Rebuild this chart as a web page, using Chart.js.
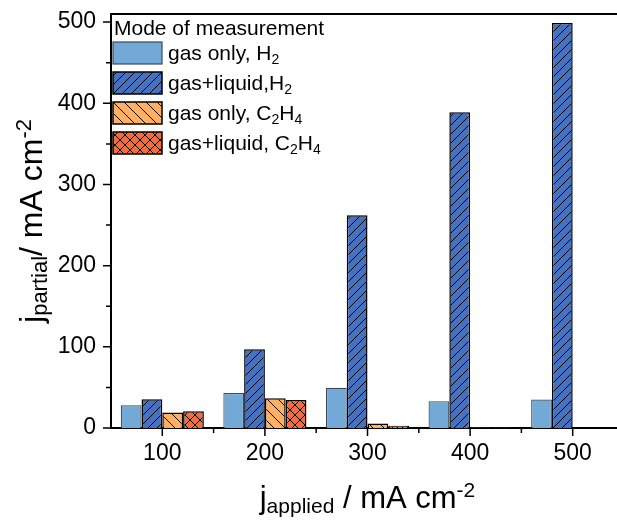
<!DOCTYPE html>
<html>
<head>
<meta charset="utf-8">
<script src="https://cdn.jsdelivr.net/npm/chart.js@4"></script>
<style>
html, body { margin: 0; padding: 0; overflow: hidden; background: #fff; }
#wrap { width: 640px; height: 520px; }
</style>
</head>
<body>
<div id="wrap"><canvas id="chart1"></canvas></div>
<script>
// values
const categories = ['100', '200', '300', '400', '500'];
const gasOnlyH2 = [28, 43, 49.5, 33, 35];
const gasLiquidH2 = [35.5, 97, 262, 389, 499];
const gasOnlyC2H4 = [19, 36.5, 5.5, 0.6, 0];
const gasLiquidC2H4 = [20.5, 34.5, 2.8, 0.6, 0];
const yTicks = [0, 100, 200, 300, 400, 500];
const seriesLabels = ['gas only, H_{2}', 'gas+liquid,H_{2}', 'gas only, C_{2}H_{4}', 'gas+liquid, C_{2}H_{4}'];
const legendTitle = 'Mode of measurement';
const xTitle = 'j_{applied} / mA cm^{-2}';
const yTitle = 'j_{partial}/ mA cm^{-2}';

const FONT = "'Liberation Sans', Arial, sans-serif";

function hatch(bg, size, slash, back) {
    const c = document.createElement('canvas');
    c.width = c.height = size;
    const g = c.getContext('2d');
    g.fillStyle = bg;
    g.fillRect(0, 0, size, size);
    g.strokeStyle = '#000';
    g.lineWidth = 1;
    g.beginPath();
    if (slash) {
        g.moveTo(-1, size + 1); g.lineTo(size + 1, -1);
        g.moveTo(-1, 1); g.lineTo(1, -1);
        g.moveTo(size - 1, size + 1); g.lineTo(size + 1, size - 1);
    }
    if (back) {
        g.moveTo(-1, -1); g.lineTo(size + 1, size + 1);
        g.moveTo(size - 1, -1); g.lineTo(size + 1, 1);
        g.moveTo(-1, size - 1); g.lineTo(1, size + 1);
    }
    g.stroke();
    return document.createElement('canvas').getContext('2d').createPattern(c, 'repeat');
}

// text with _{sub} and ^{sup} parts
function parseRich(str) {
    const segs = [];
    let i = 0, buf = '';
    while (i < str.length) {
        const ch = str[i];
        if ((ch === '_' || ch === '^') && str[i + 1] === '{') {
            if (buf) { segs.push({ t: buf, m: 0 }); buf = ''; }
            const end = str.indexOf('}', i);
            segs.push({ t: str.slice(i + 2, end), m: ch === '_' ? 1 : -1 });
            i = end + 1;
        } else {
            buf += ch;
            i++;
        }
    }
    if (buf) segs.push({ t: buf, m: 0 });
    return segs;
}

function drawRich(ctx, str, x, y, size, align) {
    const segs = parseRich(str);
    const small = Math.round(size * 0.68);
    let total = 0;
    segs.forEach(s => {
        ctx.font = (s.m ? small : size) + 'px ' + FONT;
        s.w = ctx.measureText(s.t).width;
        total += s.w;
    });
    let cx = align === 'center' ? x - total / 2 : x;
    ctx.textAlign = 'left';
    ctx.textBaseline = 'alphabetic';
    segs.forEach(s => {
        ctx.font = (s.m ? small : size) + 'px ' + FONT;
        const dy = s.m === 1 ? size * 0.17 : (s.m === -1 ? -size * 0.35 : 0);
        ctx.fillText(s.t, cx, y + dy);
        cx += s.w;
    });
}

const decor = {
    id: 'decor',
    afterDraw(chart) {
        const ctx = chart.ctx;
        const area = chart.chartArea;
        const xs = chart.scales.x;
        const ys = chart.scales.y;
        ctx.save();
        ctx.strokeStyle = '#000';
        ctx.fillStyle = '#000';
        ctx.lineWidth = 2;
        ctx.beginPath();
        ctx.moveTo(area.left - 1, area.top);
        ctx.lineTo(area.right, area.top);
        ctx.stroke();

        // ticks
        ctx.lineWidth = 1.5;
        ctx.beginPath();
        for (let v = 0; v <= 500; v += 50) {
            const py = ys.getPixelForValue(v);
            const len = v % 100 === 0 ? 8 : 5;
            ctx.moveTo(area.left - len, py);
            ctx.lineTo(area.left, py);
        }
        for (let i = 0; i < categories.length; i++) {
            const px = xs.getPixelForValue(i);
            ctx.moveTo(px, area.bottom);
            ctx.lineTo(px, area.bottom + 8);
            const pm = xs.getPixelForValue(i + 0.5);
            ctx.moveTo(pm, area.bottom);
            ctx.lineTo(pm, area.bottom + 5);
        }
        ctx.stroke();

        // axis titles
        drawRich(ctx, xTitle, (area.left + area.right) / 2, 508, 31, 'center');
        ctx.save();
        ctx.translate(42, (area.top + area.bottom) / 2);
        ctx.rotate(-Math.PI / 2);
        drawRich(ctx, yTitle, 0, 0, 32, 'center');
        ctx.restore();

        // legend
        ctx.font = '21px ' + FONT;
        ctx.textAlign = 'left';
        ctx.fillText(legendTitle, 114, 35);
        chart.data.datasets.forEach((ds, i) => {
            const top = 42 + 30 * i;
            ctx.fillStyle = ds.backgroundColor;
            ctx.fillRect(113, top, 49, 22);
            ctx.strokeStyle = ds.borderColor;
            ctx.lineWidth = ds.borderWidth;
            ctx.strokeRect(113, top, 49, 22);
            ctx.fillStyle = '#000';
            drawRich(ctx, ds.label, 168, top + 18, 21, 'left');
        });
        ctx.restore();
    }
};

const ctx1 = document.getElementById('chart1').getContext('2d');
const myChart1 = new Chart(ctx1, {
    type: 'bar',
    data: {
        labels: categories,
        datasets: [{
            label: seriesLabels[0],
            data: gasOnlyH2,
            backgroundColor: '#72a9d6',
            borderColor: '#3c4a58',
            borderWidth: 1.2
        }, {
            label: seriesLabels[1],
            data: gasLiquidH2,
            backgroundColor: hatch('#4472c0', 9, true, false),
            borderColor: '#000',
            borderWidth: 1.5
        }, {
            label: seriesLabels[2],
            data: gasOnlyC2H4,
            backgroundColor: hatch('#ffb062', 11, false, true),
            borderColor: '#000',
            borderWidth: 1.5
        }, {
            label: seriesLabels[3],
            data: gasLiquidC2H4,
            backgroundColor: hatch('#f26d3d', 10, true, true),
            borderColor: '#000',
            borderWidth: 1.5
        }]
    },
    options: {
        responsive: true,
        maintainAspectRatio: false,
        animation: false,
        devicePixelRatio: 1,
        categoryPercentage: 0.81,
        barPercentage: 1,
        layout: { padding: { top: 14, right: 16, left: 0, bottom: 0 } },
        plugins: {
            legend: { display: false },
            tooltip: { enabled: false }
        },
        scales: {
            x: {
                offset: true,
                grid: { display: false, drawTicks: false },
                border: { display: true, color: '#000', width: 2 },
                ticks: { color: '#000', font: { family: FONT, size: 23 }, padding: 12, maxRotation: 0 },
                afterFit: function(scale) {
                    scale.height = 92;
                    scale.paddingLeft = 0;
                    scale.paddingRight = 0;
                }
            },
            y: {
                min: 0,
                max: 510,
                grid: { display: false, drawTicks: false },
                border: { display: true, color: '#000', width: 2 },
                ticks: { color: '#000', font: { family: FONT, size: 23 }, padding: 15 },
                afterBuildTicks: function(scale) {
                    scale.ticks = yTicks.map(v => ({ value: v }));
                },
                afterFit: function(scale) {
                    scale.width = 111;
                    scale.paddingTop = 0;
                    scale.paddingBottom = 0;
                }
            }
        }
    },
    plugins: [decor]
});
</script>
</body>
</html>
